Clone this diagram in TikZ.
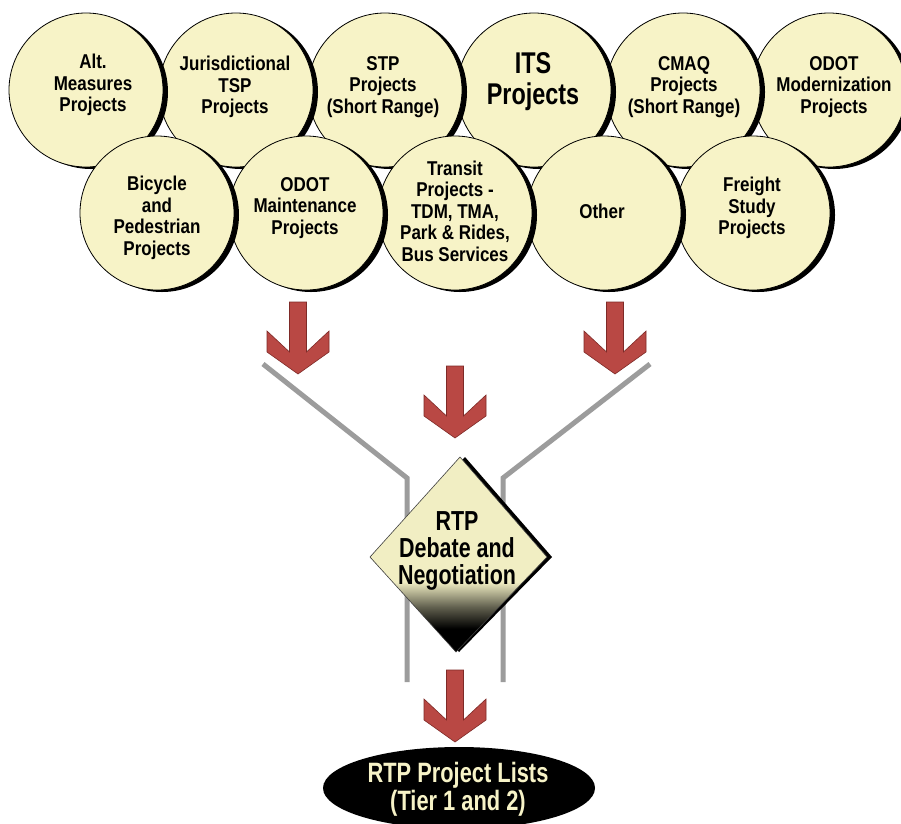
\documentclass[tikz,border=0pt]{standalone}
\usepackage{fontspec}
\setmainfont{Liberation Sans}
\newfontfamily\narrowA{Liberation Sans}[FakeStretch=0.85]
\newfontfamily\narrowB{Liberation Sans}[FakeStretch=0.78]
\usetikzlibrary{shapes.geometric,shadows}
\definecolor{cyel}{HTML}{F7F3C7}
\definecolor{dyel}{HTML}{F1EEC3}
\definecolor{ared}{HTML}{B94844}
\definecolor{aredd}{HTML}{7E2A27}
\definecolor{lgray}{HTML}{9C9C9C}
\pgfdeclareverticalshading{dshade}{100bp}{color(0bp)=(black); color(31bp)=(black); color(36.5bp)=(dyel!40!black); color(43bp)=(dyel); color(100bp)=(dyel)}
\begin{document}
\begin{tikzpicture}[x=1pt,y=-1pt,
  ball/.style={circle, minimum size=154pt, inner sep=0pt, fill=cyel, draw=black, line width=0.8pt,
    drop shadow={shadow xshift=5pt, shadow yshift=-2pt, opacity=1, fill=black}},
  balltext/.style={align=center, inner sep=0pt, font=\narrowA\bfseries\fontsize{20}{21.5}\selectfont},
  bigtext/.style={align=center, inner sep=0pt, font=\narrowB\bfseries\fontsize{27.5}{27}\selectfont},
  gline/.style={draw=lgray, line width=5pt},
  redarrow/.pic={\filldraw[fill=ared, draw=aredd, line width=0.6pt, line join=miter]
    (-8.5,-72) -- (-8.5,-22) -- (-31,-43) -- (-31,-22) -- (0,0) -- (31,-22) -- (31,-43) -- (8.5,-22) -- (8.5,-72) -- cycle;},
  ]
\useasboundingbox (0,0) rectangle (901,823);
\fill[white] (0,0) rectangle (901,823);

% top row (right to left so that left circles lie on top)
\node[ball] (odotmod) at (829,90) {};
\node[balltext] (odotmodT) at (834,87) {ODOT\\Modernization\\Projects};
\node[ball] (cmaq) at (683,90) {};
\node[balltext] (cmaqT) at (684,87) {CMAQ\\Projects\\(Short Range)};
\node[ball] (its) at (534,90) {};
\node[balltext, font=\narrowB\bfseries\fontsize{30}{31}\selectfont] (itsT) at (533,82) {ITS\\Projects};
\node[ball] (stp) at (385,90) {};
\node[balltext] (stpT) at (383,87) {STP\\Projects\\(Short Range)};
\node[ball] (tsp) at (236,90) {};
\node[balltext] (tspT) at (235,87) {Jurisdictional\\TSP\\Projects};
\node[ball] (alt) at (86,90) {};
\node[balltext] (altT) at (93,85) {Alt.\\Measures\\Projects};
% bottom row
\node[ball] (freight) at (753,213) {};
\node[balltext] (freightT) at (752,208) {Freight\\Study\\Projects};
\node[ball] (other) at (604,213) {};
\node[balltext] (otherT) at (602,211) {Other};
\node[ball] (transit) at (455,213) {};
\node[balltext] (transitT) at (455,211) {Transit\\Projects -\\TDM, TMA,\\Park \& Rides,\\Bus Services};
\node[ball] (maint) at (306,213) {};
\node[balltext] (maintT) at (305,208) {ODOT\\Maintenance\\Projects};
\node[ball] (bike) at (157,213) {};
\node[balltext] (bikeT) at (157,218) {Bicycle\\and\\Pedestrian\\Projects};

% funnel lines
\coordinate (la) at (263,364);
\coordinate (lb) at (407,478);
\coordinate (lc) at (407,682);
\coordinate (ra) at (650,364);
\coordinate (rb) at (503,478);
\coordinate (rc) at (503,682);
\draw[gline] (la) -- (lb) -- (lc);
\draw[gline] (ra) -- (rb) -- (rc);

% block arrows
\pic at (298,374) {redarrow};
\pic at (455,438) {redarrow};
\pic at (615,374) {redarrow};
\pic at (455,742) {redarrow};

% diamond
\coordinate (dt) at (460,457);
\coordinate (dr) at (547,557);
\coordinate (db) at (456,652);
\coordinate (dl) at (370,557);
\fill[black] ([xshift=5pt]dt) -- ([xshift=5pt]dr) -- ([xshift=3pt]db) -- (dl) -- cycle;
\shade[shading=dshade, draw=black!75, line width=0.6pt] (dt) -- (dr) -- (db) -- (dl) -- cycle;
\node[bigtext] (debate) at (457,551) {RTP\\Debate and\\Negotiation};

% result ellipse
\node[ellipse, fill=black, minimum width=272pt, minimum height=82pt, inner sep=0pt] (lists) at (459,788) {};
\node[bigtext, text=cyel, font=\narrowB\bfseries\fontsize{28}{28}\selectfont] (listsT) at (458,789) {RTP Project Lists\\(Tier 1 and 2)};
\end{tikzpicture}
\end{document}
